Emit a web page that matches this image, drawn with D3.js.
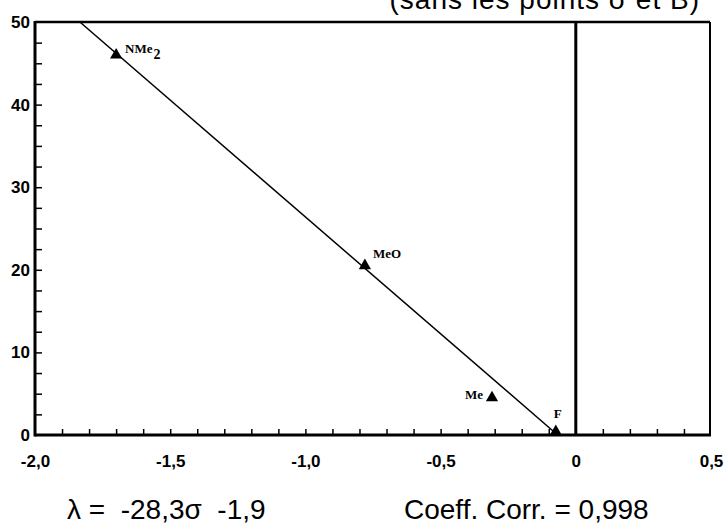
<!DOCTYPE html>
<html>
<head>
<meta charset="utf-8">
<script src="https://cdn.jsdelivr.net/npm/d3@7"></script>
<style>
  body { margin: 0; background: #fff; }
  svg { display: block; }
  .lbl { font-family: "Liberation Serif", "Times New Roman", serif; font-weight: bold; font-size: 13px; fill: #000; }
  .big { font-family: "Liberation Sans", Arial, sans-serif; font-size: 28px; fill: #000; white-space: pre; }
</style>
</head>
<body>
<svg class="chart"></svg>
<script>
// Substituents, sigma values and lambda values
var names = ["NMe", "MeO", "Me", "F"];
var sigma = [-1.70, -0.78, -0.31, -0.074];
var lambda = [46.0, 20.5, 4.5, 0.4];

// Regression fit  lambda = slope * sigma + intercept
var slope = -28.3,
    intercept = -1.9;

// Axis ticks
var xTickValues = [-2, -1.5, -1, -0.5, 0, 0.5];
var xTickLabels = ["-2,0", "-1,5", "-1,0", "-0,5", "0", "0,5"];
var yTickValues = [0, 10, 20, 30, 40, 50];
var yTickLabels = ["0", "10", "20", "30", "40", "50"];

var width = 724, height = 527;
var margin = {left: 35, right: 711, top: 22, bottom: 435};

var x = d3.scaleLinear().domain([-2, 0.5]).range([margin.left, margin.right]);
var y = d3.scaleLinear().domain([0, 50]).range([margin.bottom, margin.top]);

var svg = d3.select(".chart")
    .attr("width", width)
    .attr("height", height);

// Partly cut-off title at the top
svg.append("text")
    .attr("class", "big")
    .attr("x", 700)
    .attr("y", 9)
    .attr("text-anchor", "end")
    .style("letter-spacing", "1px")
    .text("(sans les points σ et B)");

// Minor ticks: x every 0.1, y every 2.5
var xMinor = d3.range(-19, 5).map(function(i) { return i / 10; }).filter(function(v) { return v !== 0; });
var yMinor = d3.range(1, 20).map(function(i) { return i * 2.5; });

svg.append("g")
    .attr("transform", "translate(0," + margin.bottom + ")")
    .call(d3.axisBottom(x).tickValues(xMinor).tickSize(-6).tickFormat(""))
    .call(function(g) { g.select(".domain").remove(); g.selectAll("line").attr("stroke-width", 1.5); });

svg.append("g")
    .attr("transform", "translate(" + margin.left + ",0)")
    .call(d3.axisLeft(y).tickValues(yMinor).tickSize(-7).tickFormat(""))
    .call(function(g) { g.select(".domain").remove(); g.selectAll("line").attr("stroke-width", 1.5); });

// Tick labels
function styleLabels(g) {
  g.select(".domain").remove();
  g.selectAll("text")
      .style("font-family", "'Liberation Sans', Arial, sans-serif")
      .style("font-weight", "bold")
      .style("font-size", "17px")
      .attr("fill", "#000");
}

svg.append("g")
    .attr("transform", "translate(0," + margin.bottom + ")")
    .call(d3.axisBottom(x).tickValues(xTickValues).tickSize(0).tickPadding(20)
      .tickFormat(function(d, i) { return xTickLabels[i]; }))
    .call(styleLabels);

svg.append("g")
    .attr("transform", "translate(" + margin.left + ",0)")
    .call(d3.axisLeft(y).tickValues(yTickValues).tickSize(0).tickPadding(5)
      .tickFormat(function(d, i) { return yTickLabels[i]; }))
    .call(styleLabels);

// Frame
svg.append("line").attr("x1", margin.left).attr("x2", margin.right - 1)
    .attr("y1", margin.top).attr("y2", margin.top)
    .attr("stroke", "#000").attr("stroke-width", 2.5);
svg.append("line").attr("x1", margin.right - 1).attr("x2", margin.right - 1)
    .attr("y1", margin.top).attr("y2", margin.bottom)
    .attr("stroke", "#000").attr("stroke-width", 2);
svg.append("line").attr("x1", margin.left).attr("x2", margin.left)
    .attr("y1", margin.top - 1).attr("y2", margin.bottom + 1.5)
    .attr("stroke", "#000").attr("stroke-width", 3);
svg.append("line").attr("x1", margin.left).attr("x2", margin.right)
    .attr("y1", margin.bottom).attr("y2", margin.bottom)
    .attr("stroke", "#000").attr("stroke-width", 3);

// Zero line
svg.append("line").attr("x1", x(0)).attr("x2", x(0)).attr("y1", y(50)).attr("y2", y(0))
    .attr("stroke", "#000").attr("stroke-width", 3);

// Regression line, clipped to lambda in [0, 50]
var s0 = (50 - intercept) / slope,
    s1 = (0 - intercept) / slope;
svg.append("line")
    .attr("x1", x(s0)).attr("y1", y(slope * s0 + intercept))
    .attr("x2", x(s1)).attr("y2", y(slope * s1 + intercept))
    .attr("stroke", "#000").attr("stroke-width", 1.5);

// Points
svg.selectAll(".pt")
    .data(sigma)
    .enter().append("path")
    .attr("class", "pt")
    .attr("d", d3.symbol().type(d3.symbolTriangle).size(65))
    .attr("transform", function(d, i) { return "translate(" + x(d) + "," + y(lambda[i]) + ")"; })
    .attr("fill", "#000");

// Point labels
var lblPos = [
  {dx: 9, dy: -2, anchor: "start"},
  {dx: 8, dy: -8, anchor: "start"},
  {dx: -9, dy: 1, anchor: "end"},
  {dx: 2, dy: -14, anchor: "middle"}
];
svg.selectAll(".lbl")
    .data(names)
    .enter().append("text")
    .attr("class", "lbl")
    .attr("x", function(d, i) { return x(sigma[i]) + lblPos[i].dx; })
    .attr("y", function(d, i) { return y(lambda[i]) + lblPos[i].dy; })
    .attr("text-anchor", function(d, i) { return lblPos[i].anchor; })
    .text(function(d) { return d; })
    .filter(function(d) { return d === "NMe"; })
    .append("tspan")
    .attr("dy", 6)
    .attr("dx", 1)
    .style("font-size", "14px")
    .text("2");

// Equation and correlation
svg.append("text").attr("class", "big").attr("x", 67).attr("y", 519)
    .text("λ =  -28,3σ  -1,9");
svg.append("text").attr("class", "big").attr("x", 404).attr("y", 519)
    .text("Coeff. Corr. = 0,998");
</script>
</body>
</html>
